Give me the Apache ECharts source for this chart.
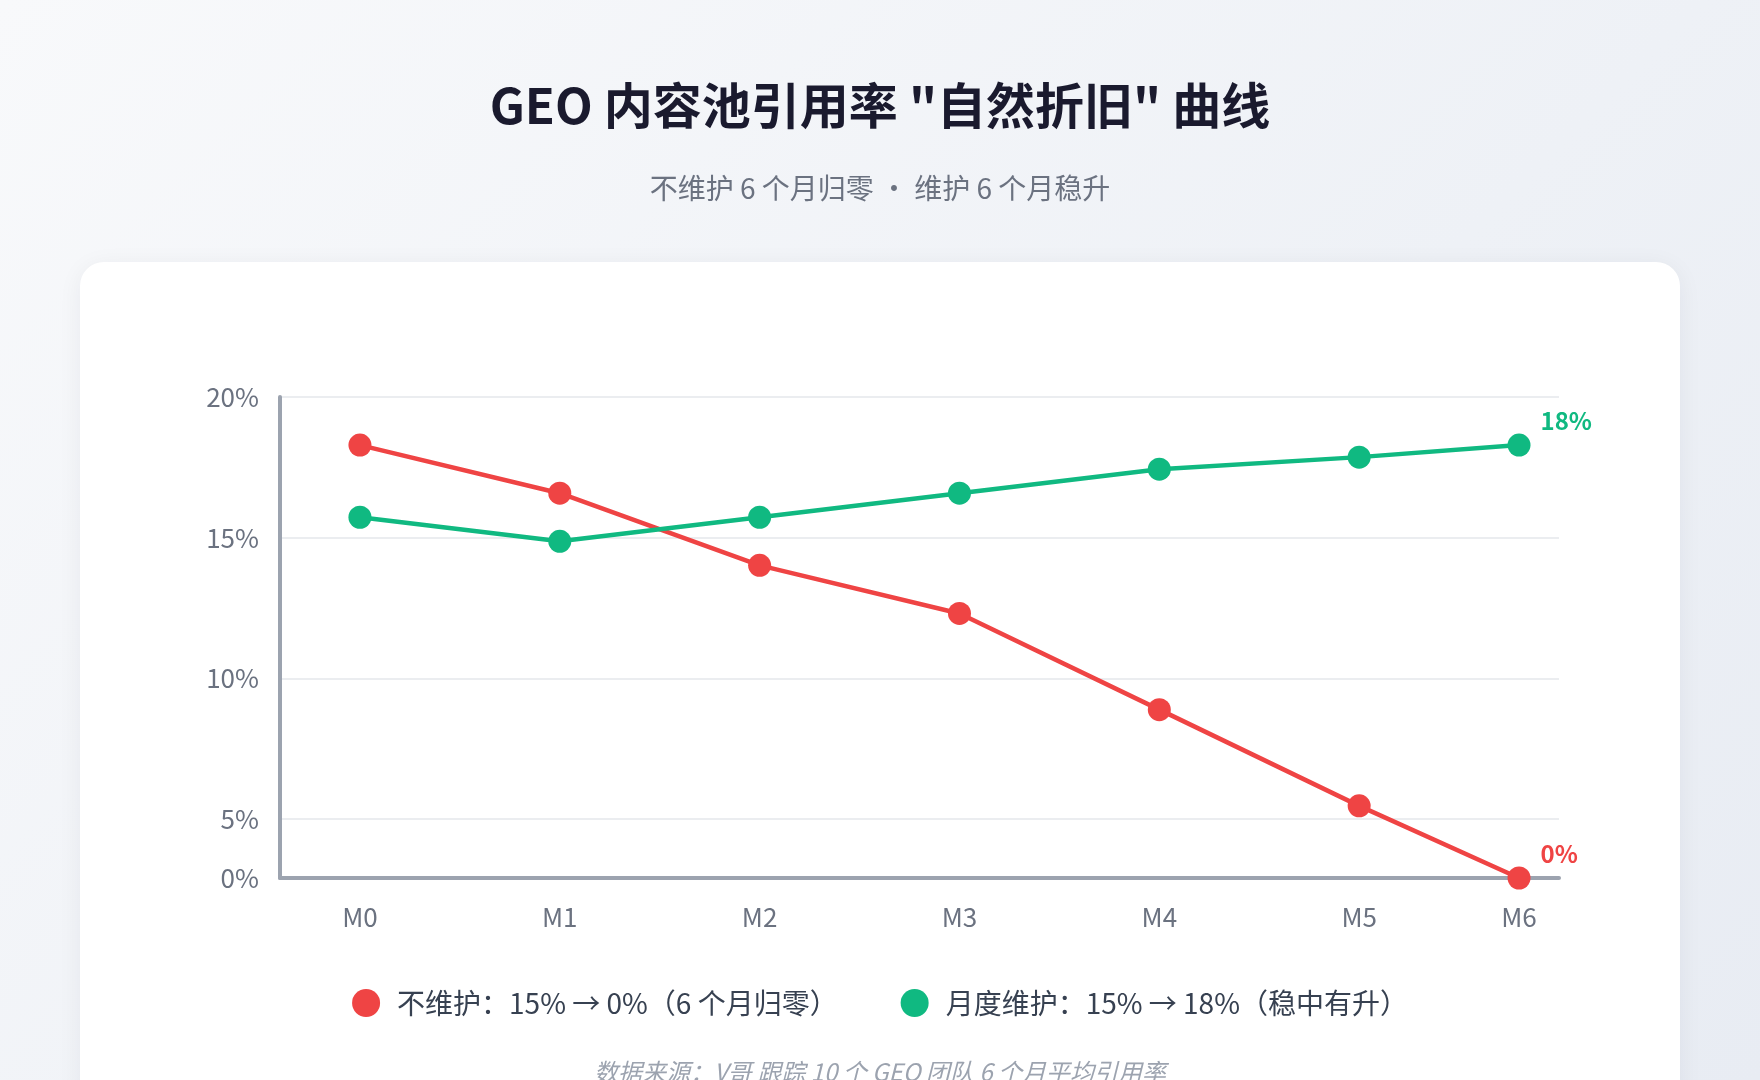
<!DOCTYPE html>
<html lang="zh-CN">
<head>
<meta charset="UTF-8">
<title>GEO 内容池引用率 "自然折旧" 曲线</title>
<script src="https://cdn.jsdelivr.net/npm/echarts@6/dist/echarts.min.js"></script>
<style>
  html, body {
    margin: 0;
    padding: 0;
    width: 1760px;
    height: 1080px;
    overflow: hidden;
    background: linear-gradient(135deg, #f8f9fb 0%, #eef1f6 60%, #e8ecf3 100%);
    font-family: "Noto Sans CJK SC", "Noto Sans", sans-serif;
  }
  .card {
    position: absolute;
    left: 80px;
    top: 262px;
    width: 1600px;
    height: 900px;
    background: #fff;
    border-radius: 24px;
    box-shadow: 0 4px 24px rgba(30, 41, 59, 0.06);
  }
  .chart {
    position: absolute;
    left: 0;
    top: 0;
    width: 1760px;
    height: 1080px;
  }
</style>
</head>
<body>
<div class="card"></div>
<div class="chart"></div>
<script>
// 月份
var months = ["M0", "M1", "M2", "M3", "M4", "M5", "M6"];
// 月份在横轴上的位置（图中 M6 靠得更近）
var monthPos = [0, 1, 2, 3, 4, 5, 5.8];
// 不维护：引用率 %
var noMaintain = [18, 16, 13, 11, 7, 3, 0];
// 月度维护：引用率 %
var monthlyMaintain = [15, 14, 15, 16, 17, 17.5, 18];
// 纵轴刻度文字
var yTickLabels = ["0%", "5%", "10%", "15%", "20%"];

var seriesNames = ["不维护：15% → 0%（6 个月归零）", "月度维护：15% → 18%（稳中有升）"];
var myColor = ["#ef4444", "#10b981"];

(function () {
  var myChart = echarts.init(document.querySelector('.chart'));
  var font = '"Noto Sans CJK SC", "Noto Sans", sans-serif';

  // 组装 [x, y] 数据，最后一个点显示数值
  function buildData(values, color) {
    return values.map(function (v, i) {
      var item = { value: [monthPos[i], v] };
      if (i === values.length - 1) {
        item.label = {
          show: true,
          position: 'right',
          distance: 10,
          offset: [0, -24],
          color: color,
          fontSize: 24,
          fontWeight: 'bold',
          fontFamily: font,
          formatter: function (p) { return p.value[1] + '%'; }
        };
      }
      return item;
    });
  }

  function lineSeries(name, values, color) {
    return {
      name: name,
      type: 'line',
      yAxisIndex: 0,
      data: buildData(values, color),
      symbol: 'circle',
      symbolSize: 23,
      lineStyle: { color: color, width: 4.5 },
      itemStyle: { color: color },
      label: { show: false },
      z: 10
    };
  }

  var option = {
    animation: false,
    textStyle: { fontFamily: font },
    title: [
      {
        text: 'GEO 内容池引用率 "自然折旧" 曲线',
        left: 'center',
        top: 76,
        textStyle: { fontSize: 49, fontWeight: 'bold', color: '#1a1a2e', fontFamily: font }
      },
      {
        text: '不维护 6 个月归零 · 维护 6 个月稳升',
        left: 'center',
        top: 169,
        textStyle: { fontSize: 28, fontWeight: 'normal', color: '#6b7280', fontFamily: font }
      },
      {
        text: '数据来源：V哥 跟踪 10 个 GEO 团队 6 个月平均引用率',
        left: 'center',
        top: 1055,
        textStyle: { fontSize: 24, fontWeight: 'normal', fontStyle: 'italic', color: '#9ca3af', fontFamily: font }
      }
    ],
    legend: {
      data: seriesNames,
      left: 'center',
      top: 984,
      icon: 'circle',
      itemWidth: 28,
      itemHeight: 28,
      itemGap: 63,
      textStyle: { fontSize: 28, color: '#374151', padding: [0, 0, 0, 12], fontFamily: font }
    },
    grid: {
      left: 280,
      right: 201,
      top: 397,
      bottom: 202
    },
    xAxis: {
      type: 'value',
      min: -0.4,
      max: 6,
      z: 5,
      axisLine: { show: true, lineStyle: { color: '#9ca3af', width: 4 } },
      axisTick: { show: false },
      splitLine: { show: false },
      axisLabel: {
        customValues: monthPos,
        margin: 26,
        fontSize: 26,
        color: '#6b7280',
        formatter: function (v) {
          for (var i = 0; i < monthPos.length; i++) {
            if (Math.abs(monthPos[i] - v) < 1e-6) return months[i];
          }
          return '';
        }
      }
    },
    yAxis: [
      // 数据轴 0% ~ 20%，不显示
      {
        type: 'value',
        min: 0,
        max: 20,
        show: false
      },
      // 刻度轴：图中 0% 到 5% 的间距较小
      {
        type: 'value',
        min: 2.9,
        max: 20,
        splitNumber: 4,
        position: 'left',
        axisLine: { show: true, lineStyle: { color: '#9ca3af', width: 4 } },
        axisTick: { show: false },
        splitLine: { show: true, lineStyle: { color: '#e5e7eb', width: 1.5 } },
        axisLabel: {
          margin: 21,
          fontSize: 26,
          color: '#6b7280',
          formatter: function (v) {
            return v < 5 ? yTickLabels[0] : yTickLabels[Math.round(v / 5)];
          }
        }
      }
    ],
    series: [
      lineSeries(seriesNames[0], noMaintain, myColor[0]),
      lineSeries(seriesNames[1], monthlyMaintain, myColor[1])
    ]
  };

  myChart.setOption(option);
  window.addEventListener("resize", function () {
    myChart.resize();
  });
})();
</script>
</body>
</html>
